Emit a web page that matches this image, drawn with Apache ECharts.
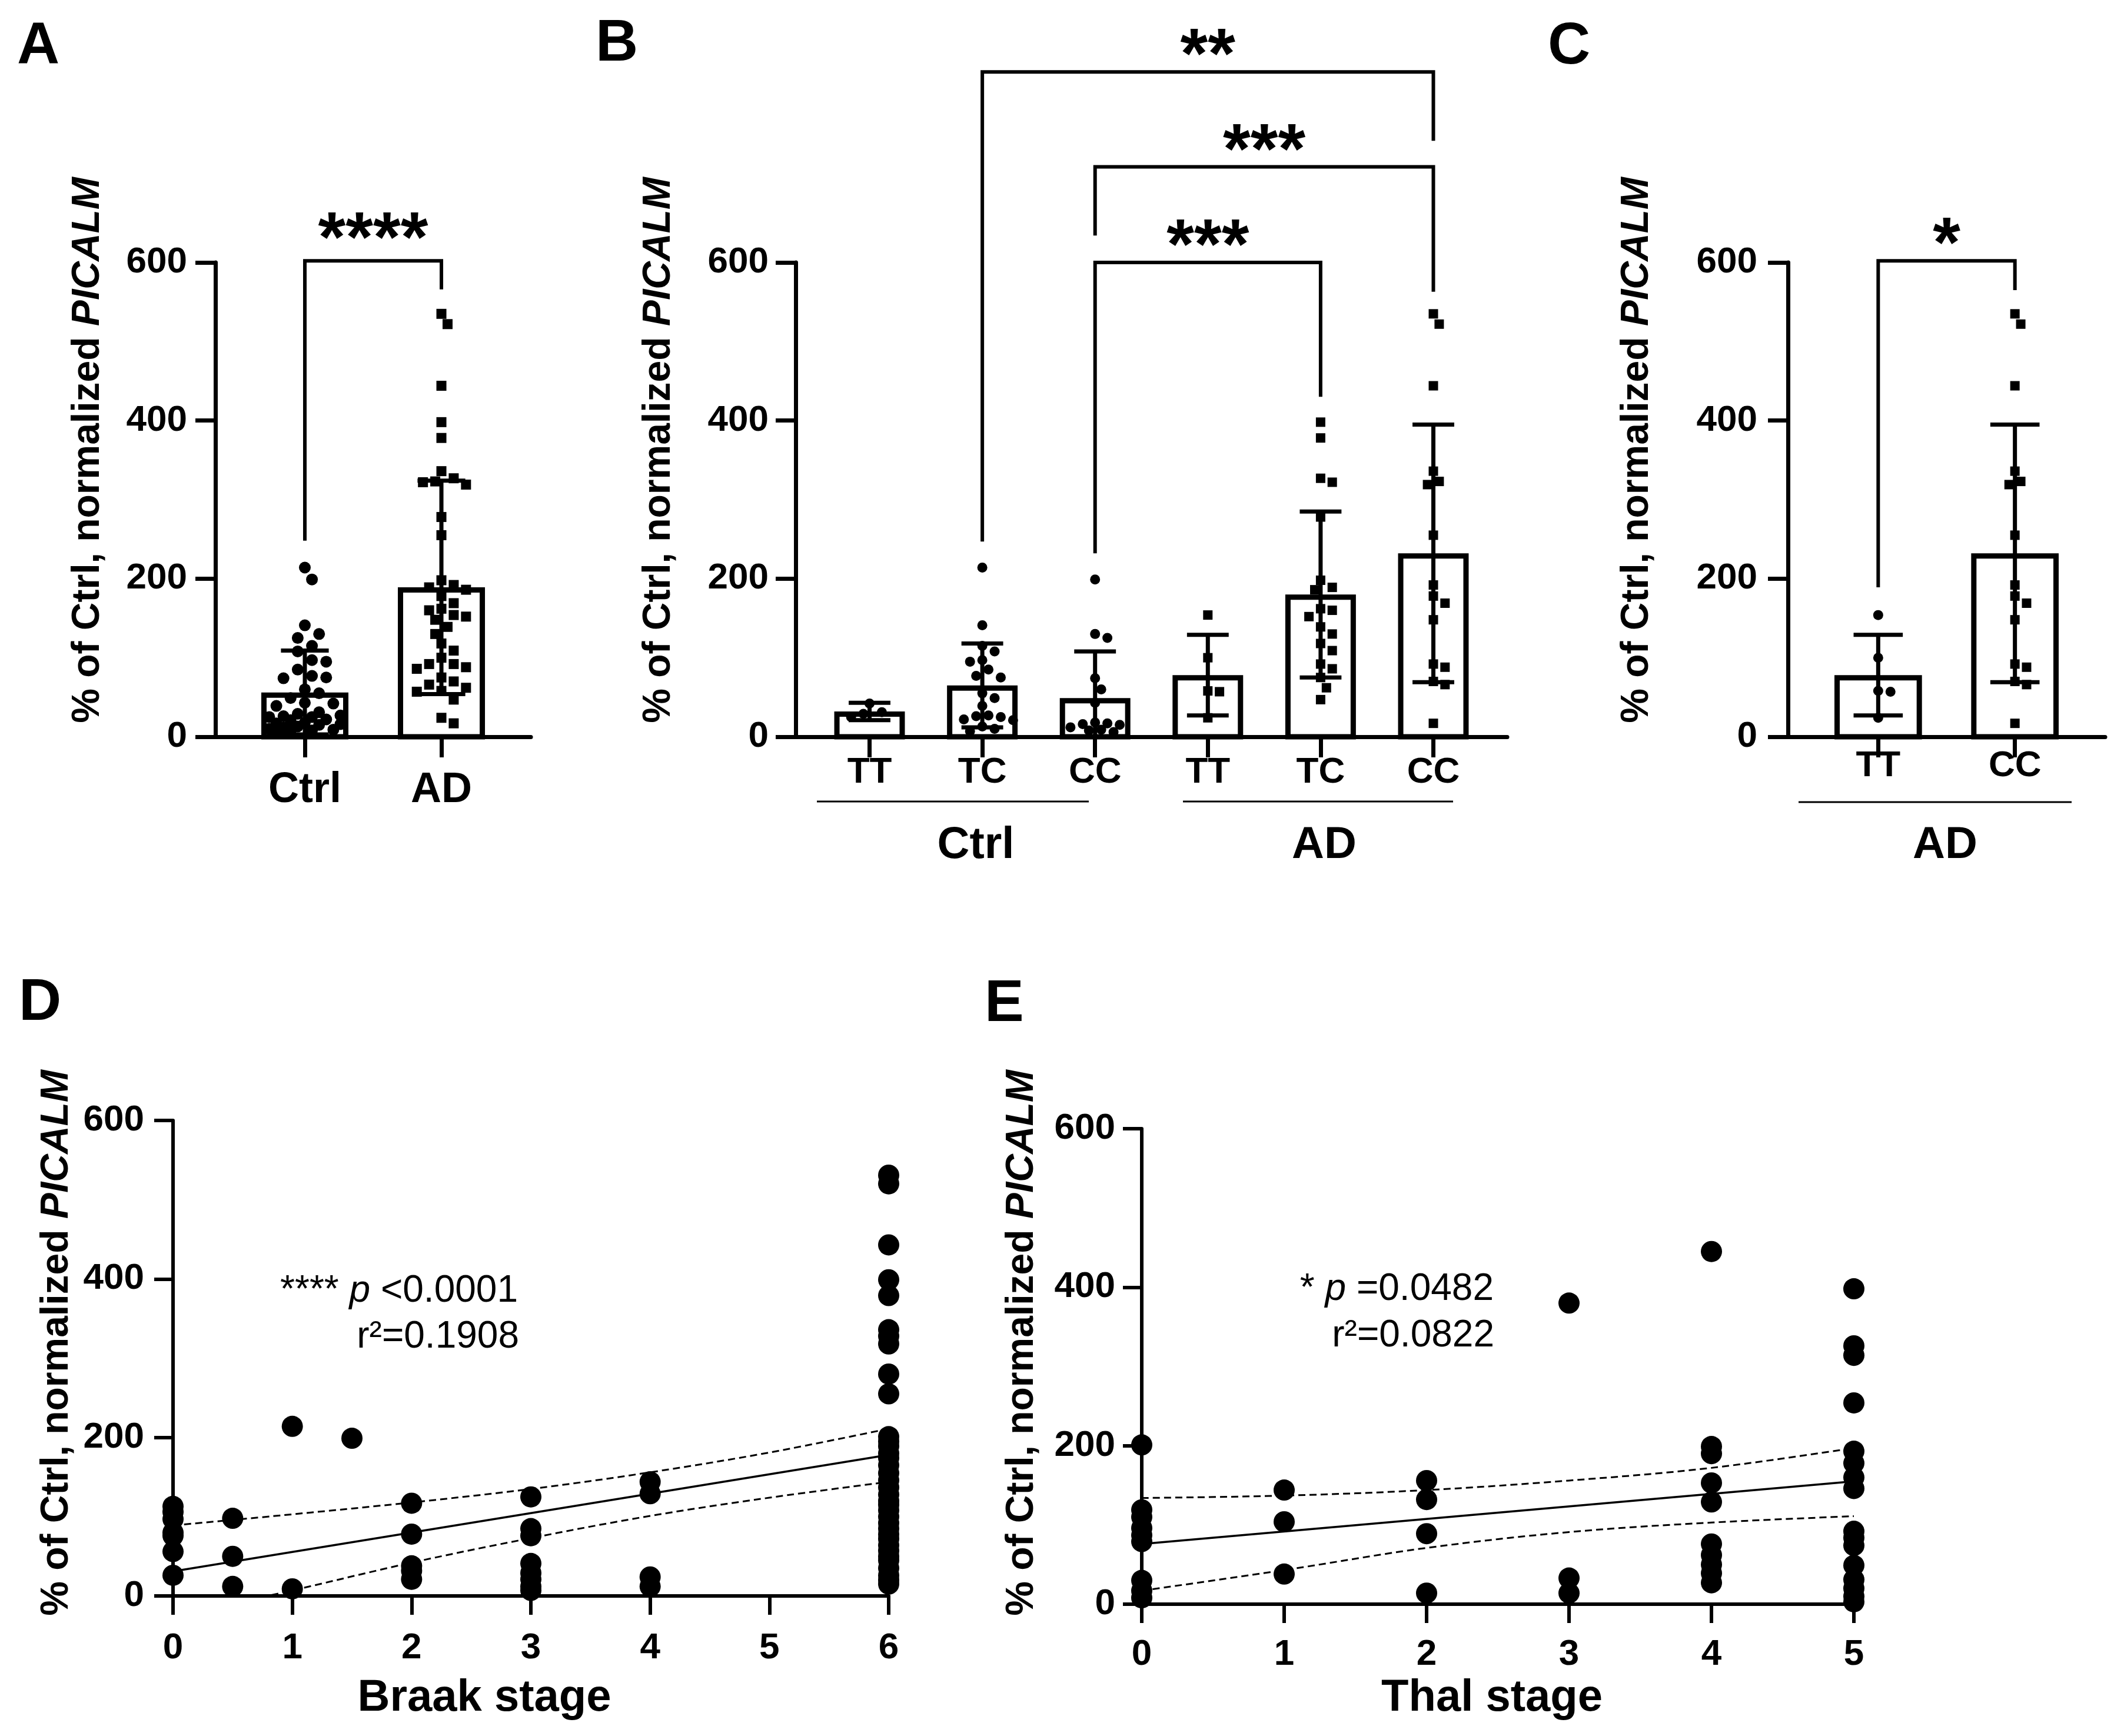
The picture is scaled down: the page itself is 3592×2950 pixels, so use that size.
<!DOCTYPE html>
<html><head><meta charset="utf-8">
<script src="https://cdn.jsdelivr.net/npm/echarts@6/dist/echarts.min.js"></script>
<style>html,body{margin:0;padding:0;background:#fff}#c{width:3592px;height:2950px}</style>
</head><body><div id="c"></div>
<script>
// ================= DATA =================
const yTicks = [0, 200, 400, 600];

// Panel A
const catsA = ['Ctrl', 'AD'];
const meanA = [56, 189];
const sdA = [53, 135];

// Panel B
const genotypes = ['TT', 'TC', 'CC', 'TT', 'TC', 'CC'];
const groupNames = ['Ctrl', 'AD'];
const meanB = [32, 65, 49, 78, 180, 232];
const sdB = [11, 53, 59, 51, 105, 163];
const ctrlTT = [42, 31, 29, 25];
const ctrlTC = [214, 141, 115, 108, 97, 95, 85, 77, 75, 55, 49, 39, 27, 26, 25, 22, 21, 13, 10, 7];
const ctrlCC = [199, 130, 125, 74, 60, 43, 18, 17, 16, 15, 12, 9, 8, 6];
const adTT = [154, 100, 58, 57, 24];
const adTC = [398, 378, 327, 322, 278, 198, 189, 186, 162, 160, 152, 139, 130, 118, 109, 92, 86, 75, 62, 47];
const adCC = [535, 522, 444, 336, 323, 319, 255, 192, 178, 169, 148, 92, 88, 70, 66, 17];

// Panel C
const catsC = ['TT', 'CC'];
const meanC = [78, 232];
const sdC = [51, 163];

// Significance brackets: category indices, bracket top, leg ends (value units)
const bracketsA = [{from: 0, to: 1, top: 602, left: 248, right: 566, label: '****'}];
const bracketsB = [
  {from: 1, to: 5, top: 841, left: 247, right: 754, label: '**'},
  {from: 2, to: 5, top: 721, left: 634, right: 563, label: '***'},
  {from: 2, to: 4, top: 600, left: 232, right: 430, label: '***'}
];
const bracketsC = [{from: 0, to: 1, top: 602, left: 189, right: 565, label: '*'}];

// Panel D (Braak stage)
const braakStages = [0, 0.5, 1, 1.5, 2, 3, 4, 6];
const braakValues = [
  [113, 106, 97, 80, 76, 56, 26],
  [98, 50, 12],
  [214, 9],
  [199],
  [117, 78, 38, 32, 21],
  [125, 85, 76, 41, 29, 21, 12, 7],
  [144, 129, 24, 12],
  [531, 520, 443, 399, 379, 336, 328, 318, 280, 255, 201, 195, 189, 180, 174, 165, 155, 146, 137, 128, 120, 115, 108, 100, 92, 85, 78, 72, 64, 57, 50, 45, 35, 26, 20, 15]
];
const braakTicks = [0, 1, 2, 3, 4, 5, 6];
const braakFit = [[0, 31], [6, 178]];
const braakUpper = [89, 103, 118, 135, 156, 181, 211];
const braakLower = [-26, 7, 42, 73, 101, 124, 144];

// Panel E (Thal stage)
const thalStages = [0, 1, 2, 3, 4, 5];
const thalValues = [
  [201, 119, 110, 96, 87, 79, 30, 17, 8],
  [144, 104, 38],
  [156, 132, 89, 14],
  [380, 33, 14],
  [445, 199, 190, 153, 129, 76, 62, 50, 39, 27],
  [398, 326, 314, 254, 193, 178, 160, 146, 92, 84, 74, 49, 31, 20, 10, 3]
];
const thalFit = [[0, 76], [5, 155]];
const thalUpper = [134, 137, 144, 156, 172, 197];
const thalLower = [17, 43, 71, 91, 103, 111];

// ================= LAYOUT =================
const FONT = '"Liberation Sans", Arial, Helvetica, sans-serif';
const G = [
  {left: 366, top: 446, width: 536, height: 806},
  {left: 1352, top: 446, width: 1209, height: 806},
  {left: 3038, top: 446, width: 539, height: 806},
  {left: 294, top: 1904, width: 1216, height: 808},
  {left: 1940, top: 1918, width: 1210, height: 808}
];
const XR = [[-0.655, 1.655], [-0.655, 5.655], [-0.66, 1.66], [0, 6], [0, 5]];
const pxX = i => G[i].width / (XR[i][1] - XR[i][0]);
const pxY = i => G[i].height / 600;

const chart = echarts.init(document.getElementById('c'), null, {renderer: 'canvas', width: 3592, height: 2950});

function yAxis(gi, margin, lw, tl) {
  return {type: 'value', gridIndex: gi, min: 0, max: 600, interval: 200,
    axisLine: {show: true, onZero: false, lineStyle: {color: '#000', width: lw}},
    axisTick: {show: true, length: tl, lineStyle: {color: '#000', width: lw}},
    axisLabel: {margin, color: '#000', fontSize: 62, fontWeight: 'bold', fontFamily: FONT},
    splitLine: {show: false}};
}
function xCatAxis(gi, labels, margin, fs) {
  const vals = labels.map((_, i) => i);
  return {type: 'value', gridIndex: gi, min: XR[gi][0], max: XR[gi][1],
    axisLine: {show: true, onZero: false, lineStyle: {color: '#000', width: 7}},
    axisTick: {show: true, length: 35, customValues: vals, lineStyle: {color: '#000', width: 7}},
    axisLabel: {customValues: vals, formatter: v => labels[Math.round(v)], margin, color: '#000',
      fontSize: fs, fontWeight: 'bold', fontFamily: FONT},
    splitLine: {show: false}};
}
function xStageAxis(gi, margin) {
  return {type: 'value', gridIndex: gi, min: XR[gi][0], max: XR[gi][1], interval: 1,
    axisLine: {show: true, onZero: false, lineStyle: {color: '#000', width: 6}},
    axisTick: {show: true, length: 32, lineStyle: {color: '#000', width: 6}},
    axisLabel: {margin, color: '#000', fontSize: 62, fontWeight: 'bold', fontFamily: FONT},
    splitLine: {show: false}};
}

// deterministic beeswarm layout (pixel collision, limited width) -> x offsets in axis units
function swarm(vals, gi, diam, maxUnits) {
  const order = vals.map((v, i) => i).sort((a, b) => vals[b] - vals[a]);
  const placed = [];
  const off = new Array(vals.length).fill(0);
  const step = diam * 0.55;
  const maxPx = maxUnits * pxX(gi);
  const cands = [0];
  for (let k = 1; k * step <= maxPx; k++) { cands.push(k * step, -k * step); }
  order.forEach(i => {
    const y = vals[i] * pxY(gi);
    let best = 0, bestD = -1;
    for (const c of cands) {
      let dmin = Infinity;
      placed.forEach(p => { const d = Math.hypot(p.x - c, p.y - y); if (d < dmin) dmin = d; });
      if (dmin >= diam) { best = c; bestD = dmin; break; }
      if (dmin > bestD) { bestD = dmin; best = c; }
    }
    placed.push({x: best, y}); off[i] = best / pxX(gi);
  });
  return off;
}

function barSeries(gi, means, halfW) {
  return {type: 'custom', xAxisIndex: gi, yAxisIndex: gi, z: 1, silent: true, animation: false,
    data: means.map((m, i) => [i, m]),
    renderItem(params, api) {
      const x = api.value(0), m = api.value(1), lw = 9;
      const a = api.coord([x - halfW, 0]), b = api.coord([x + halfW, m]);
      return {type: 'rect', shape: {x: a[0] + lw / 2, y: b[1] + lw / 2, width: b[0] - a[0] - lw, height: a[1] - b[1] - lw / 2},
        style: {fill: '#fff', stroke: '#000', lineWidth: lw}};
    }};
}
function errSeries(gi, means, sds, capHalf) {
  return {type: 'custom', xAxisIndex: gi, yAxisIndex: gi, z: 6, silent: true, animation: false,
    data: means.map((m, i) => [i, m, sds[i]]),
    renderItem(params, api) {
      const x = api.value(0), m = api.value(1), s = api.value(2);
      const hi = m + s, lo = Math.max(0, m - s);
      const pH = api.coord([x, hi]), pL = api.coord([x, lo]);
      const st = {stroke: '#000', lineWidth: 7};
      const c1 = api.coord([x - capHalf, hi]), c2 = api.coord([x + capHalf, hi]);
      const ch = [
        {type: 'line', shape: {x1: pH[0], y1: pH[1], x2: pL[0], y2: pL[1]}, style: st},
        {type: 'line', shape: {x1: c1[0], y1: c1[1], x2: c2[0], y2: c2[1]}, style: st}
      ];
      if (m - s > 0) {
        const d1 = api.coord([x - capHalf, lo]), d2 = api.coord([x + capHalf, lo]);
        ch.push({type: 'line', shape: {x1: d1[0], y1: d1[1], x2: d2[0], y2: d2[1]}, style: st});
      }
      return {type: 'group', children: ch};
    }};
}
function pointSeries(gi, xc, vals, symbol, size, maxUnits) {
  const off = swarm(vals, gi, size + 2, maxUnits);
  return {type: 'scatter', xAxisIndex: gi, yAxisIndex: gi, z: 3, symbol, symbolSize: size,
    itemStyle: {color: '#000', opacity: 1}, silent: true, animation: false,
    data: vals.map((v, i) => [xc + off[i], v])};
}
function bracketSeries(gi, b) {
  return {type: 'line', xAxisIndex: gi, yAxisIndex: gi, z: 5, clip: false, symbol: 'none', silent: true, animation: false,
    lineStyle: {color: '#000', width: 6, join: 'miter', opacity: 1},
    data: [[b.from, b.left], [b.from, b.top], [b.to, b.top], [b.to, b.right]]};
}
function stageScatter(gi, stages, values) {
  const d = [];
  stages.forEach((s, i) => values[i].forEach(v => d.push([s, v])));
  return {type: 'scatter', xAxisIndex: gi, yAxisIndex: gi, z: 3, symbol: 'circle', symbolSize: 36,
    itemStyle: {color: '#000', opacity: 1}, silent: true, animation: false, data: d};
}
function lineS(gi, data, dashed, w) {
  return {type: 'line', xAxisIndex: gi, yAxisIndex: gi, z: 4, symbol: 'none', smooth: dashed ? 0.35 : false,
    silent: true, animation: false, lineStyle: {color: '#000', width: w, opacity: 1, type: dashed ? [12, 7] : 'solid'}, data};
}

const series = [];
// A
series.push(barSeries(0, meanA, 0.319));
series.push(pointSeries(0, 0, ctrlTT.concat(ctrlTC, ctrlCC), 'circle', 20, 0.27));
series.push(pointSeries(0, 1, adTT.concat(adTC, adCC), 'rect', 17, 0.27));
series.push(errSeries(0, meanA, sdA, 0.175));
bracketsA.forEach(b => series.push(bracketSeries(0, b)));
// B
series.push(barSeries(1, meanB, 0.313));
[ctrlTT, ctrlTC, ctrlCC].forEach((g, i) => series.push(pointSeries(1, i, g, 'circle', 17, 0.28)));
[adTT, adTC, adCC].forEach((g, i) => series.push(pointSeries(1, i + 3, g, 'rect', 16, 0.28)));
series.push(errSeries(1, meanB, sdB, 0.185));
bracketsB.forEach(b => series.push(bracketSeries(1, b)));
// C
series.push(barSeries(2, meanC, 0.32));
series.push(pointSeries(2, 0, adTT, 'circle', 17, 0.27));
series.push(pointSeries(2, 1, adCC, 'rect', 16, 0.27));
series.push(errSeries(2, meanC, sdC, 0.18));
bracketsC.forEach(b => series.push(bracketSeries(2, b)));
// D
series.push(stageScatter(3, braakStages, braakValues));
series.push(lineS(3, braakFit, false, 3.5));
series.push(lineS(3, braakUpper.map((v, i) => [braakTicks[i], v]), true, 3));
series.push(lineS(3, braakLower.map((v, i) => [braakTicks[i], v]), true, 3));
// E
series.push(stageScatter(4, thalStages, thalValues));
series.push(lineS(4, thalFit, false, 3.5));
series.push(lineS(4, thalUpper.map((v, i) => [thalStages[i], v]), true, 3));
series.push(lineS(4, thalLower.map((v, i) => [thalStages[i], v]), true, 3));

chart.setOption({
  backgroundColor: '#fff',
  animation: false,
  grid: G.map(g => Object.assign({outerBoundsMode: 'none', containLabel: false}, g)),
  xAxis: [xCatAxis(0, catsA, 55, 72), xCatAxis(1, genotypes, 30, 62), xCatAxis(2, catsC, 19, 62),
          xStageAxis(3, 58), xStageAxis(4, 55)],
  yAxis: [yAxis(0, 48, 7, 34), yAxis(1, 46, 7, 34), yAxis(2, 52, 7, 34), yAxis(3, 49, 6, 32), yAxis(4, 45, 6, 32)],
  series
});

// ================= TEXT ANNOTATIONS =================
const gfx = [];
function txt(x, y, text, o) {
  gfx.push({type: 'text', x, y, silent: true, z: 20, rotation: (o && o.rot) || 0,
    style: Object.assign({text, fill: '#000', fontFamily: FONT, fontSize: 60, fontWeight: 'bold',
      align: 'center', verticalAlign: 'middle'}, (o && o.style) || {})});
}
// panel letters
[['A', 29, 80], ['B', 1012, 75], ['C', 2630, 80], ['D', 32, 1705], ['E', 1673, 1707]].forEach(l =>
  txt(l[1], l[2], l[0], {style: {fontSize: 100, align: 'left'}}));
// y axis titles
const ylab = '{n|% of Ctrl, normalized }{i|PICALM}';
const yrich = {n: {fontSize: 66, fontWeight: 'bold', fontFamily: FONT, fill: '#000'},
               i: {fontSize: 66, fontWeight: 'bold', fontStyle: 'italic', fontFamily: FONT, fill: '#000'}};
[[150, 765], [1120, 765], [2782, 765], [97, 2282], [1737, 2282]].forEach(p =>
  txt(p[0], p[1], ylab, {rot: Math.PI / 2, style: {rich: yrich}}));
// stars above brackets
function stars(gi, list, above) {
  list.forEach(b => {
    const p = chart.convertToPixel({gridIndex: gi}, [(b.from + b.to) / 2, b.top]);
    txt(p[0], p[1] - above + 32, b.label, {style: {fontSize: 120}});
  });
}
stars(0, bracketsA, 64);
stars(1, bracketsB, 55);
stars(2, bracketsC, 55);
// group lines / labels for B and C
function gline(x1, x2, y) {
  gfx.push({type: 'line', silent: true, z: 20, shape: {x1, y1: y, x2, y2: y}, style: {stroke: '#000', lineWidth: 3}});
}
gline(1388, 1850, 1362); gline(2010, 2469, 1362); gline(3056, 3520, 1363);
txt(1658, 1437, groupNames[0], {style: {fontSize: 76}});
txt(2250, 1437, groupNames[1], {style: {fontSize: 76}});
txt(3305, 1437, groupNames[1], {style: {fontSize: 76}});
// x axis titles for D/E
txt(823, 2886, 'Braak stage', {style: {fontSize: 76}});
txt(2535, 2886, 'Thal stage', {style: {fontSize: 76}});
// regression annotations
const arich = {s: {fontSize: 64, fontFamily: FONT, fill: '#000'},
               i: {fontSize: 64, fontFamily: FONT, fontStyle: 'italic', fill: '#000'}};
txt(880, 2194, '{s|**** }{i|p}{s| <0.0001}', {style: {align: 'right', rich: arich, fontWeight: 'normal'}});
txt(882, 2272, '{s|r\u00b2=0.1908}', {style: {align: 'right', rich: arich, fontWeight: 'normal'}});
txt(2538, 2191, '{s|* }{i|p}{s| =0.0482}', {style: {align: 'right', rich: arich, fontWeight: 'normal'}});
txt(2539, 2270, '{s|r\u00b2=0.0822}', {style: {align: 'right', rich: arich, fontWeight: 'normal'}});

chart.setOption({graphic: {elements: gfx}});
</script>
</body></html>
